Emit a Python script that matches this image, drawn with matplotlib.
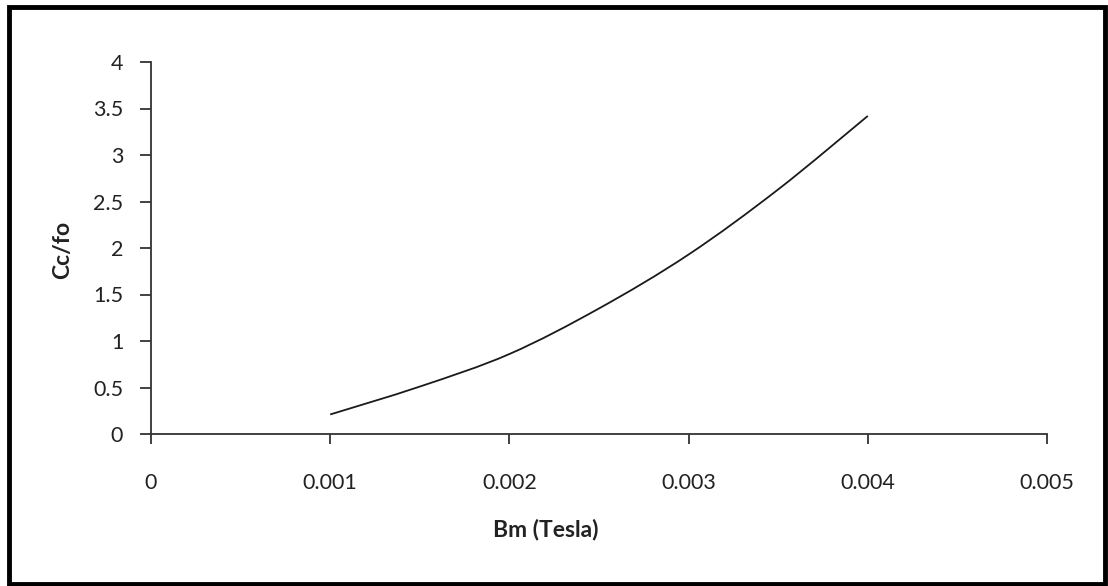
import matplotlib
matplotlib.use("Agg")
import matplotlib.pyplot as plt
from matplotlib.patches import Rectangle, PathPatch
from matplotlib.path import Path

bm = [0.001, 0.0015, 0.002, 0.0025, 0.003, 0.0035, 0.004]
cc_fo = [0.21, 0.51, 0.86, 1.35, 1.93, 2.63, 3.42]
x_ticks = [0, 0.001, 0.002, 0.003, 0.004, 0.005]
x_tick_labels = ["0", "0.001", "0.002", "0.003", "0.004", "0.005"]
y_ticks = [0, 0.5, 1, 1.5, 2, 2.5, 3, 3.5, 4]
y_tick_labels = ["0", "0.5", "1", "1.5", "2", "2.5", "3", "3.5", "4"]

plt.rcParams['font.family'] = ['Lato', 'DejaVu Sans']

W, H = 1108, 586
fig = plt.figure(figsize=(W / 100, H / 100), dpi=100)
ax = fig.add_axes([151 / W, 1 - 434 / H, (1047 - 151) / W, (434 - 62) / H])

# smoothed line (Catmull-Rom style Bezier, like a spreadsheet "smoothed line")
verts = [(bm[0], cc_fo[0])]
codes = [Path.MOVETO]
n = len(bm)
for i in range(n - 1):
    p0 = (bm[max(i - 1, 0)], cc_fo[max(i - 1, 0)])
    p1 = (bm[i], cc_fo[i])
    p2 = (bm[i + 1], cc_fo[i + 1])
    p3 = (bm[min(i + 2, n - 1)], cc_fo[min(i + 2, n - 1)])
    c1 = (p1[0] + (p2[0] - p0[0]) / 6, p1[1] + (p2[1] - p0[1]) / 6)
    c2 = (p2[0] - (p3[0] - p1[0]) / 6, p2[1] - (p3[1] - p1[1]) / 6)
    verts += [c1, c2, p2]
    codes += [Path.CURVE4] * 3
ax.add_patch(PathPatch(Path(verts, codes), fill=False, edgecolor="#1a1a1a", lw=1.3))

ax.set_xlim(0, 0.005)
ax.set_ylim(0, 4)
ax.set_xticks(x_ticks)
ax.set_xticklabels(x_tick_labels)
ax.set_yticks(y_ticks)
ax.set_yticklabels(y_tick_labels)

for s in ["top", "right"]:
    ax.spines[s].set_visible(False)
for s in ["left", "bottom"]:
    ax.spines[s].set_color("#333333")
    ax.spines[s].set_linewidth(1.3)

ax.tick_params(axis="x", direction="out", length=7, width=1.3, color="#333333",
               pad=21, labelsize=15.5, labelcolor="#222222")
ax.tick_params(axis="y", direction="out", length=8, width=1.3, color="#333333",
               pad=12, labelsize=15.5, labelcolor="#222222")

fig.text(546 / W, 1 - 530 / H, "Bm (Tesla)", ha="center", va="center",
         fontsize=16.5, fontweight="bold", color="#222222")
fig.text(63 / W, 1 - 250 / H, "Cc/fo", ha="center", va="center", rotation=90,
         fontsize=16.5, fontweight="bold", color="#222222")

fig.patches.append(Rectangle((9 / W, 2 / H), (W - 12) / W, (H - 9) / H,
                             transform=fig.transFigure, fill=False,
                             edgecolor="black", linewidth=3.5))

fig.savefig("out.png", dpi=100, facecolor="white")
